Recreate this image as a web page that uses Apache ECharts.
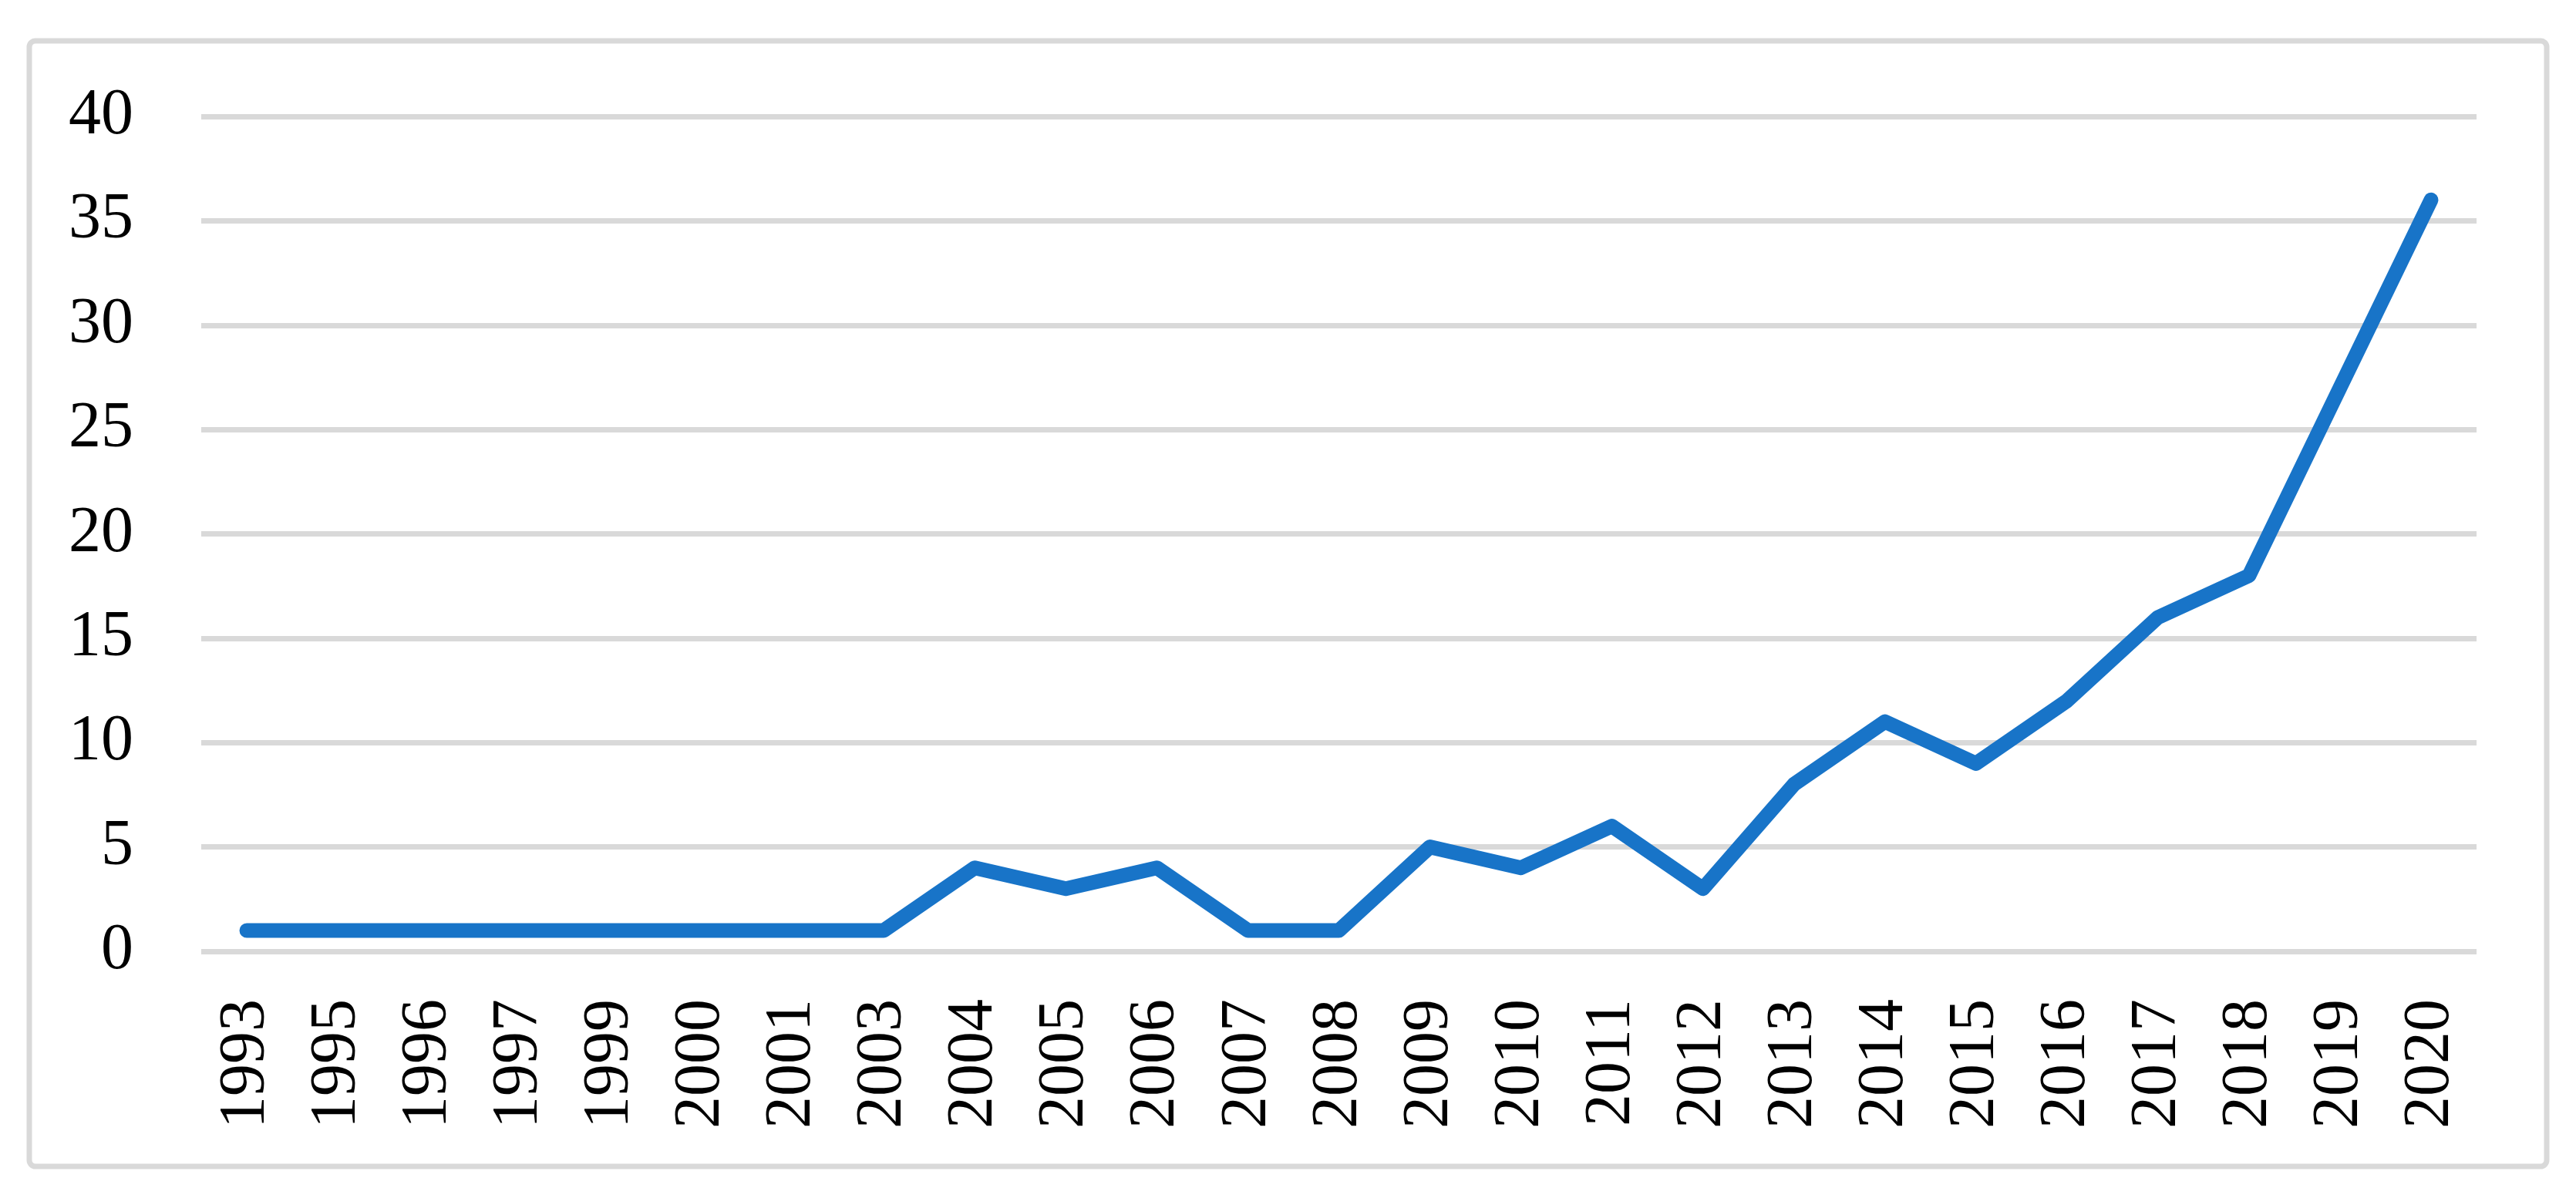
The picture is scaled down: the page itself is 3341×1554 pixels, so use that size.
<!DOCTYPE html>
<html>
<head>
<meta charset="utf-8">
<script src="https://cdn.jsdelivr.net/npm/echarts@6/dist/echarts.min.js"></script>
<style>
html,body{margin:0;padding:0;background:#fff;}
#chart{width:3341px;height:1554px;}
</style>
</head>
<body>
<div id="chart"></div>
<script>
var years = ['1993','1995','1996','1997','1999','2000','2001','2003','2004','2005','2006','2007','2008','2009','2010','2011','2012','2013','2014','2015','2016','2017','2018','2019','2020'];
var counts = [1,1,1,1,1,1,1,1,4,3,4,1,1,5,4,6,3,8,11,9,12,16,18,27,36];
var yTicks = [0,5,10,15,20,25,30,35,40];

var chart = echarts.init(document.getElementById('chart'), null, {renderer:'canvas'});
var font = '"Liberation Serif", "DejaVu Serif", serif';
chart.setOption({
  animation:false,
  backgroundColor:'#ffffff',
  graphic:[{
    type:'rect',
    shape:{x:38,y:53,width:3265,height:1460,r:8},
    style:{fill:'none',stroke:'#d9d9d9',lineWidth:7},
    silent:true
  }],
  grid:{left:261,right:129,top:151,bottom:320,containLabel:false},
  xAxis:{
    type:'category',
    data:years,
    boundaryGap:true,
    axisLine:{show:false},
    axisTick:{show:false},
    axisLabel:{rotate:90,margin:62,color:'#000',fontFamily:font,fontSize:84,interval:0}
  },
  yAxis:{
    type:'value',
    min:yTicks[0],max:yTicks[yTicks.length-1],interval:5,
    axisLine:{show:false},
    axisTick:{show:false},
    axisLabel:{margin:88,color:'#000',fontFamily:font,fontSize:84},
    splitLine:{show:true,lineStyle:{color:'#d9d9d9',width:7}}
  },
  series:[{
    type:'line',
    data:counts,
    showSymbol:false,
    symbol:'none',
    lineStyle:{color:'#1874c8',width:19,cap:'round',join:'round'},
    itemStyle:{color:'#1874c8'}
  }]
});
</script>
</body>
</html>
